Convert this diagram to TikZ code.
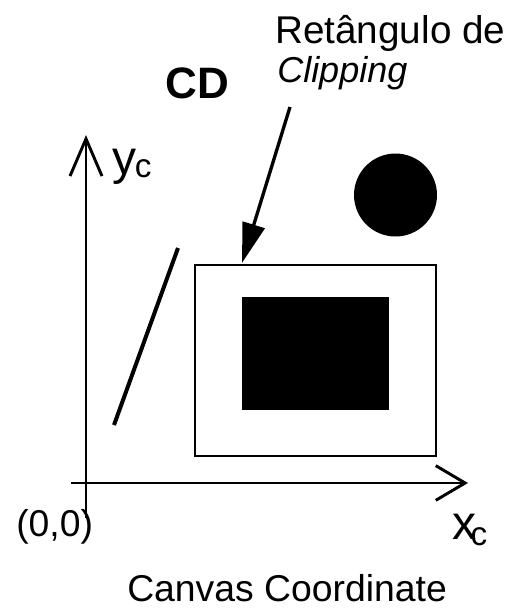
\documentclass[tikz,border=0pt]{standalone}
\usepackage{fontspec}
\setmainfont{Liberation Sans}
\usetikzlibrary{arrows.meta}
\begin{document}
\begin{tikzpicture}[x=0.75pt,y=-0.75pt,
  axis/.style={line width=2.2pt},
  lbl/.style={inner sep=0pt,anchor=base west},
  bigtxt/.style={font=\fontsize{28}{30}\selectfont}]
\useasboundingbox (0,0) rectangle (514,608);
% axes
\coordinate (ybot) at (86,518);
\coordinate (ytop) at (86,135);
\coordinate (xleft) at (71,483);
\coordinate (xright) at (468,483);
\draw[axis,-{Straight Barb[length=28pt,width=24pt,line width=2.2pt]}] (ybot) -- (ytop);
\draw[axis,-{Straight Barb[length=22pt,width=26pt,line width=2.2pt]}] (xleft) -- (xright);
% clipping rectangle
\node[draw,line width=2.2pt,minimum width=241*0.75pt,minimum height=191*0.75pt,inner sep=0pt] (clip) at (315.5,360.5) {};
% filled rectangle
\node[fill=black,minimum width=147*0.75pt,minimum height=113*0.75pt,inner sep=0pt] (box) at (315.5,353.5) {};
% circle
\node[circle,fill=black,minimum size=83*0.75pt,inner sep=0pt] (disk) at (395.5,195) {};
% line segment
\coordinate (sa) at (178,248);
\coordinate (sb) at (114,425);
\draw[line width=3pt] (sa) -- (sb);
% labels
\node[lbl,font=\fontsize{29}{31}\selectfont] (ret) at (275,43) {Retângulo de};
\node[lbl,font=\fontsize{27}{29}\selectfont] (clp) at (277,82) {\itshape Clipping};
\node[lbl,font=\fontsize{33}{35}\selectfont\bfseries] (cd) at (165,98) {CD};
\node[lbl,font=\fontsize{36}{38}\selectfont] (yc) at (112,174) {y\kern-0.03em\raisebox{-0.15ex}{\fontsize{25}{27}\selectfont c}};
\node[lbl,font=\fontsize{36}{38}\selectfont] (xc) at (452,539) {x\kern-0.12em\raisebox{-0.25ex}{\fontsize{25}{27}\selectfont c}};
\node[lbl,bigtxt] (orig) at (16,536) {(0,0)};
\node[lbl,bigtxt] (title) at (127,601) {Canvas Coordinate};
% pointer arrow
\coordinate (ps) at (290,107);
\coordinate (pt) at (242,263);
\draw[line width=2.5pt,-{Triangle[length=30pt,width=17pt]}] (ps) -- (pt);
\end{tikzpicture}
\end{document}
